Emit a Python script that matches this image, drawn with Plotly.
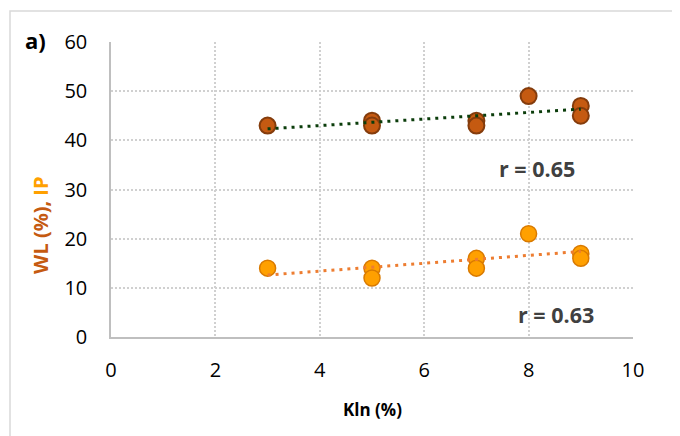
import numpy as np
import plotly.graph_objects as go

kln = [3, 5, 5, 7, 7, 8, 9, 9]
wl = [43, 44, 43, 44, 43, 49, 47, 45]
ip = [14, 14, 12, 16, 14, 21, 17, 16]
x_ticks = [0, 2, 4, 6, 8, 10]
y_ticks = [0, 10, 20, 30, 40, 50, 60]
r_wl = "r = 0.65"
r_ip = "r = 0.63"

FONT = "Open Sans"

def trend(x, y):
    m, b = np.polyfit(x, y, 1)
    xs = [min(x), max(x)]
    return xs, [m * v + b for v in xs]

fig = go.Figure()
fig.add_trace(go.Scatter(x=kln, y=wl, mode="markers",
                         marker=dict(size=16, color="#C55A11", line=dict(color="#843C0C", width=2)),
                         showlegend=False))
fig.add_trace(go.Scatter(x=kln, y=ip, mode="markers",
                         marker=dict(size=16, color="#FFA000", line=dict(color="#D97A00", width=1.5)),
                         showlegend=False))
tx, ty = trend(kln, wl)
fig.add_trace(go.Scatter(x=tx, y=ty, mode="lines",
                         line=dict(color="#0B3D0B", width=3, dash="3px,5px"), showlegend=False))
tx2, ty2 = trend(kln, ip)
fig.add_trace(go.Scatter(x=tx2, y=ty2, mode="lines",
                         line=dict(color="#ED7D31", width=3, dash="3px,5px"), showlegend=False))

fig.add_annotation(x=8.16, y=34.2, text="<b>" + r_wl + "</b>", showarrow=False,
                   font=dict(family=FONT, size=21.5, color="#404040"))
fig.add_annotation(x=8.53, y=4.5, text="<b>" + r_ip + "</b>", showarrow=False,
                   font=dict(family=FONT, size=21.5, color="#404040"))
fig.add_annotation(xref="paper", yref="paper", x=-0.144, y=1.007, xanchor="center", yanchor="middle",
                   text="<b>a)</b>", showarrow=False, font=dict(family=FONT, size=22, color="black"))
fig.add_annotation(xref="paper", yref="paper", x=-0.134, y=0.38, xanchor="center", yanchor="middle",
                   textangle=-90, showarrow=False,
                   text="<b><span style='color:#C55A11'>WL (%),</span> <span style='color:#FFA000'>IP</span></b>",
                   font=dict(family=FONT, size=20))
fig.add_annotation(xref="paper", yref="paper", x=0.5, y=-0.247, xanchor="center", yanchor="middle",
                   showarrow=False, text="<b>Kln (%)</b>",
                   font=dict(family=FONT, size=17, color="black"))

fig.add_shape(type="rect", xref="paper", yref="paper", x0=-0.1935, x1=1.3, y0=-0.6, y1=1.105,
              line=dict(color="#D9D9D9", width=1.5), fillcolor="rgba(0,0,0,0)", layer="below")

fig.update_layout(
    width=680, height=436,
    margin=dict(l=103, r=55, t=34, b=107, autoexpand=False),
    paper_bgcolor="white", plot_bgcolor="white",
    font=dict(family=FONT, color="black"),
    xaxis=dict(range=[0, 10], tickvals=x_ticks, showgrid=True, gridcolor="#D0D0D0",
               griddash="2px,2px", gridwidth=1.5, zeroline=False, showline=True,
               linecolor="#BFBFBF", linewidth=1.5, ticks="", tickfont=dict(size=20),
               ticklabelstandoff=14),
    yaxis=dict(range=[0, 60], tickvals=y_ticks, showgrid=True, gridcolor="#D0D0D0",
               griddash="2px,2px", gridwidth=1.5, zeroline=False, showline=True,
               linecolor="#BFBFBF", linewidth=1.5, ticks="", tickfont=dict(size=20),
               ticklabelstandoff=18),
)
fig.write_html("out.html")
